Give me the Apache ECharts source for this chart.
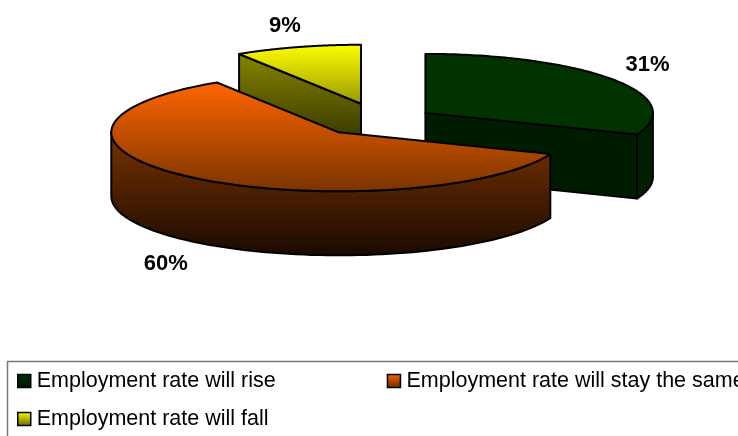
<!DOCTYPE html>
<html><head><meta charset="utf-8">
<style>html,body{margin:0;padding:0;background:#fff;overflow:hidden}#c{width:738px;height:436px}</style>
<script src="https://cdn.jsdelivr.net/npm/echarts@6/dist/echarts.min.js"></script>
</head><body><div id="c"></div>
<script>
const categories = ['Employment rate will rise', 'Employment rate will stay the same', 'Employment rate will fall'];
const shares = [31, 60, 9];

// presentation of the 3D pie
const CENTER = [376.5, 120.5], RX = 227.5, RY = 59, DEPTH = 64, EXPLODE = 0.26;
const NUDGE = [[0, 1], [0, 0], [1, -2]];
const LABEL_SHIFT = [[222, -48], [-173, 132], [-76, -78]];
function lg(a, b) { return new echarts.graphic.LinearGradient(0, 0, 0, 1, [{offset: 0, color: a}, {offset: 1, color: b}]); }
const STYLES = [
  {top: () => '#003300', wall: () => '#001c00', rim: () => '#001f00'},
  {top: () => lg('#ff6600', '#7a3300'), wall: () => lg('#7a3300', '#1a0a00'), rim: () => lg('#7a3300', '#1a0a00')},
  {top: () => lg('#ffff00', '#999900'), wall: () => lg('#858500', '#1f1f00'), rim: () => lg('#858500', '#1f1f00')}
];
const total = shares.reduce((a, b) => a + b, 0);
function rad(d) { return d * Math.PI / 180; }

function makeRender(i) {
  return function (params, api) {
    const v = api.value(0), before = api.value(1);
    const a0 = before / total * 360, a1 = (before + v) / total * 360, mid = (a0 + a1) / 2;
    const ax = CENTER[0] + EXPLODE * RX * Math.sin(rad(mid)) + NUDGE[i][0];
    const ay = CENTER[1] - EXPLODE * RY * Math.cos(rad(mid)) + NUDGE[i][1];
    const P = d => [ax + RX * Math.sin(rad(d)), ay - RY * Math.cos(rad(d))];
    const down = p => [p[0], p[1] + DEPTH];
    const sty = STYLES[i];
    const line = {stroke: '#000', lineWidth: 2, lineJoin: 'round'};
    const kids = [];
    const poly = (pts, fill) => kids.push({type: 'polygon', shape: {points: pts}, style: Object.assign({fill}, line)});
    const apex = [ax, ay];
    if (Math.sin(rad(a0)) < -1e-6) poly([apex, P(a0), down(P(a0)), down(apex)], sty.wall());
    if (Math.sin(rad(a1)) > 1e-6) poly([apex, P(a1), down(P(a1)), down(apex)], sty.wall());
    const r0 = Math.max(a0, 90), r1 = Math.min(a1, 270);
    if (r1 > r0) {
      const topEdge = [], n = 80;
      for (let k = 0; k <= n; k++) topEdge.push(P(r0 + (r1 - r0) * k / n));
      poly(topEdge.concat(topEdge.slice().reverse().map(down)), sty.rim());
    }
    const face = [apex];
    for (let k = 0; k <= 120; k++) face.push(P(a0 + (a1 - a0) * k / 120));
    poly(face, sty.top());
    kids.push({type: 'text', style: {
      x: ax + LABEL_SHIFT[i][0], y: ay + LABEL_SHIFT[i][1],
      text: v + '%', fill: '#000', align: 'center', verticalAlign: 'middle',
      font: 'bold 22px "Liberation Sans", Arial, sans-serif'
    }});
    return {type: 'group', children: kids};
  };
}

let running = 0;
const series = categories.map((name, i) => {
  const s = {
    type: 'custom', name, coordinateSystem: 'none', silent: true, animation: false,
    z: [3, 4, 2][i], clip: false,
    data: [[shares[i], running]],
    renderItem: makeRender(i)
  };
  running += shares[i];
  return s;
});

const legendIcon = [lg('#003300', '#001000'), lg('#ff6600', '#662900'), lg('#ffff00', '#666600')];
const legendCommon = {
  icon: 'rect', itemWidth: 13, itemHeight: 13, selectedMode: false, padding: 0, orient: 'horizontal',
  textStyle: {fontFamily: '"Liberation Sans", Arial, sans-serif', fontSize: 21.5, color: '#000', padding: [0, 0, 0, 1]}
};
const item = i => ({name: categories[i], icon: 'rect', itemStyle: {color: legendIcon[i], borderColor: '#000', borderWidth: 1.5}});

const chart = echarts.init(document.getElementById('c'), null, {renderer: 'canvas'});
chart.setOption({
  backgroundColor: '#fff',
  animation: false,
  tooltip: {show: false},
  legend: [
    Object.assign({}, legendCommon, {left: 17, top: 370, width: 1000, itemGap: 111, data: [item(0), item(1)]}),
    Object.assign({}, legendCommon, {left: 17, top: 408, width: 1000, data: [item(2)]})
  ],
  graphic: [{type: 'rect', z: -1, silent: true, shape: {x: 7.5, y: 361.5, width: 800, height: 120},
    style: {fill: 'none', stroke: '#777777', lineWidth: 1.5}}],
  series
});
</script></body></html>
